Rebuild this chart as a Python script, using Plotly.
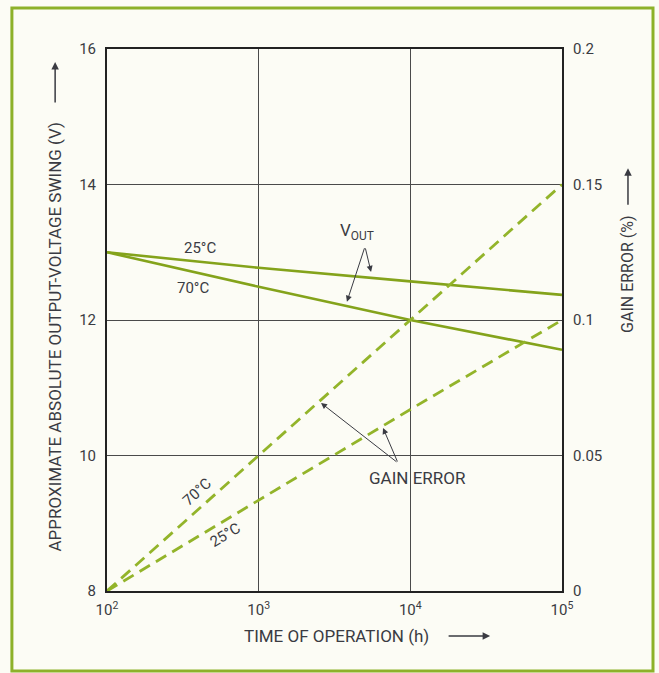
import plotly.graph_objects as go

# ---- data ----
hours = [1e2, 1e3, 1e4, 1e5]
vout_25c = [13.0, 12.77, 12.57, 12.37]
vout_70c = [13.0, 12.49, 12.0, 11.56]
gain_err_70c = [0.0, 0.05, 0.10, 0.15]
gain_err_25c = [0.0, 0.0335, 0.067, 0.10]

x_tickvals = [1e2, 1e3, 1e4, 1e5]
x_ticktext = ["10<sup>2</sup>", "10<sup>3</sup>", "10<sup>4</sup>", "10<sup>5</sup>"]
y_tickvals = [8, 10, 12, 14, 16]
y2_tickvals = [0, 0.05, 0.1, 0.15, 0.2]
y2_ticktext = ["0", "0.05", "0.1", "0.15", "0.2"]

SOLID = "#84a31b"
DASH = "#93b42a"
TXT = "#3a3b42"
FONT = "Roboto, Liberation Sans, sans-serif"

fig = go.Figure()
fig.add_trace(go.Scatter(x=hours, y=vout_25c, mode="lines",
                         line=dict(color=SOLID, width=2.6), name="VOUT 25°C"))
fig.add_trace(go.Scatter(x=hours, y=vout_70c, mode="lines",
                         line=dict(color=SOLID, width=2.6), name="VOUT 70°C"))
fig.add_trace(go.Scatter(x=hours, y=gain_err_70c, mode="lines", yaxis="y2",
                         line=dict(color=DASH, width=2.8, dash="12px,7px"), name="Gain 70°C"))
fig.add_trace(go.Scatter(x=hours, y=gain_err_25c, mode="lines", yaxis="y2",
                         line=dict(color=DASH, width=2.8, dash="12px,7px"), name="Gain 25°C"))

fig.update_layout(
    width=659, height=673,
    margin=dict(l=107, r=97, t=49, b=82, autoexpand=False),
    paper_bgcolor="#fcfcf5", plot_bgcolor="#fcfcf5",
    showlegend=False,
    font=dict(family=FONT, size=15, color=TXT),
    xaxis=dict(type="log", range=[2, 5], tickvals=x_tickvals, ticktext=x_ticktext,
               showgrid=True, gridcolor="#4a4a4a", gridwidth=1,
               showline=True, mirror=True, linecolor="#222", linewidth=2,
               ticks="", zeroline=False, tickfont=dict(size=15), ticklabelstandoff=4),
    yaxis=dict(range=[8, 16], tickvals=y_tickvals,
               showgrid=True, gridcolor="#4a4a4a", gridwidth=1,
               showline=True, mirror=True, linecolor="#222", linewidth=2,
               ticks="", zeroline=False, tickfont=dict(size=15), ticklabelstandoff=6),
    yaxis2=dict(range=[0, 0.2], tickvals=y2_tickvals, ticktext=y2_ticktext,
                overlaying="y", side="right", showgrid=False, zeroline=False,
                showline=False, ticks="", tickfont=dict(size=15), ticklabelstandoff=10),
)

ann = []
def txt(x, y, s, angle=0, size=15, ref="data"):
    d = dict(x=x, y=y, text=s, showarrow=False, textangle=angle,
             xanchor="center", yanchor="middle",
             font=dict(size=size, color=TXT, family=FONT))
    if ref == "paper":
        d.update(xref="paper", yref="paper")
    else:
        d.update(xref="x", yref="y")
    ann.append(d)

def arrow(x, y, ax, ay, ref="data", width=1.0, head=2, size=1.2):
    d = dict(x=x, y=y, ax=ax, ay=ay, text="", showarrow=True,
             arrowhead=head, arrowsize=size, arrowwidth=width, arrowcolor=TXT)
    if ref == "paper":
        d.update(xref="paper", yref="paper")
    else:
        d.update(xref="x", yref="y")
    ann.append(d)

# curve labels (log axis annotations use log10 x)
txt(2.613, 13.06, "25°C")
txt(2.567, 12.47, "70°C")
txt(3.648, 13.30, "V<sub>OUT</sub>", size=17)
arrow(3.741, 12.71, -6, -25)
arrow(3.582, 12.27, 18, -55)
txt(4.05, 9.668, "GAIN ERROR", size=17)
arrow(3.411, 10.775, 77, 60)
arrow(3.82, 10.406, 15, 35)
txt(2.593, 9.461, "70°C", angle=-42)
txt(2.778, 8.827, "25°C", angle=-31)

# axis titles
txt(-0.114, 0.468, "APPROXIMATE ABSOLUTE OUTPUT-VOLTAGE SWING (V)", angle=-90, size=17, ref="paper")
arrow(-0.114, 0.976, 0, 42, ref="paper", width=1.5, head=2, size=1.0)
txt(1.145, 0.585, "GAIN ERROR (%)", angle=-90, size=16, ref="paper")
arrow(1.145, 0.780, 0, 38, ref="paper", width=1.5, head=2, size=1.0)
txt(0.505, -0.083, "TIME OF OPERATION (h)", size=17, ref="paper")
arrow(0.842, -0.083, -43, 0, ref="paper", width=1.5, head=2, size=1.0)

fig.update_layout(annotations=ann)

fig.add_shape(type="rect", xref="paper", yref="paper",
              x0=-0.209, x1=1.2, y0=-0.1476, y1=1.0756,
              line=dict(color="#8db12a", width=3), layer="below")

fig.write_html("out.html", config={"displayModeBar": False},
               post_script="document.body.style.margin='0';document.body.style.background='#fcfcf5';")
